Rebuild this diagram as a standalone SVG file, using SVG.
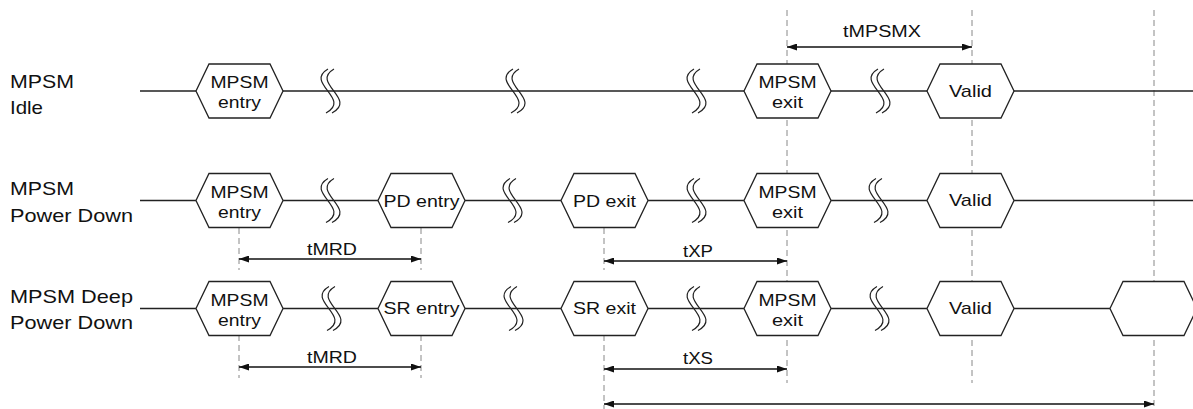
<svg xmlns="http://www.w3.org/2000/svg" width="1193" height="409" viewBox="0 0 1193 409">
<style>
.sig{stroke:#222;stroke-width:1.3;fill:none}
.hex{stroke:#222;stroke-width:1.3;fill:#fff}
.brk{stroke:#222;stroke-width:1.2;fill:none}
.dash{stroke:#888;stroke-width:1;stroke-dasharray:6 4;fill:none}
.arr{stroke:#111;stroke-width:1.3;fill:none;marker-start:url(#ah);marker-end:url(#ah)}
text{font-family:"Liberation Sans",Arial,sans-serif;fill:#111}
.lbl{font-size:19px}
.ht{font-size:17px;text-anchor:middle}
.tm{font-size:16px;text-anchor:middle}
</style>
<defs>
<marker id="ah" viewBox="0 0 10 7" refX="10" refY="3.5" markerWidth="10" markerHeight="7" markerUnits="userSpaceOnUse" orient="auto-start-reverse">
<path d="M0,0 L10,3.5 L0,7 z" fill="#111"/>
</marker>
<path id="brkS" d="M-2,-22 C-26,-8 22,8 -4,22 M4,-22 C-20,-8 28,8 2,22"/>
<polygon id="hx" points="0,0 13,-27 74,-27 87,0 74,27 13,27"/>
</defs>

<g id="guides">
<line class="dash" x1="239" y1="228" x2="239" y2="270"/>
<line class="dash" x1="421" y1="228" x2="421" y2="270"/>
<line class="dash" x1="604" y1="228" x2="604" y2="270"/>
<line class="dash" x1="239" y1="335" x2="239" y2="378"/>
<line class="dash" x1="421" y1="335" x2="421" y2="378"/>
<line class="dash" x1="604" y1="335" x2="604" y2="409"/>
<line class="dash" x1="787" y1="10" x2="787" y2="383"/>
<line class="dash" x1="972" y1="10" x2="972" y2="383"/>
<line class="dash" x1="1154" y1="10" x2="1154" y2="409"/>
</g>

<g id="labels">
<text class="lbl" x="10" y="88" textLength="64" lengthAdjust="spacingAndGlyphs">MPSM</text>
<text class="lbl" x="10" y="113.5" textLength="33" lengthAdjust="spacingAndGlyphs">Idle</text>
<text class="lbl" x="10" y="195" textLength="64" lengthAdjust="spacingAndGlyphs">MPSM</text>
<text class="lbl" x="10" y="221.5" textLength="123" lengthAdjust="spacingAndGlyphs">Power Down</text>
<text class="lbl" x="10" y="303" textLength="123" lengthAdjust="spacingAndGlyphs">MPSM Deep</text>
<text class="lbl" x="10" y="329" textLength="123" lengthAdjust="spacingAndGlyphs">Power Down</text>
</g>

<g id="connectors">
<!-- row 1 -->
<path class="sig" d="M140,91 H196 M283,91 H744 M831,91 H927 M1013,91 H1193"/>
<!-- row 2 -->
<path class="sig" d="M140,200.5 H196 M283,200.5 H378 M465,200.5 H561 M648,200.5 H744 M831,200.5 H927 M1013,200.5 H1193"/>
<!-- row 3 -->
<path class="sig" d="M140,308.5 H196 M283,308.5 H378 M465,308.5 H561 M648,308.5 H744 M831,308.5 H927 M1013,308.5 H1110"/>
<!-- breaks -->
<use href="#brkS" class="brk" x="330" y="91"/>
<use href="#brkS" class="brk" x="515" y="91"/>
<use href="#brkS" class="brk" x="696" y="91"/>
<use href="#brkS" class="brk" x="880" y="91"/>
<use href="#brkS" class="brk" x="330" y="200.5"/>
<use href="#brkS" class="brk" x="512" y="200.5"/>
<use href="#brkS" class="brk" x="696" y="200.5"/>
<use href="#brkS" class="brk" x="878" y="200.5"/>
<use href="#brkS" class="brk" x="331" y="308.5"/>
<use href="#brkS" class="brk" x="513" y="308.5"/>
<use href="#brkS" class="brk" x="696" y="308.5"/>
<use href="#brkS" class="brk" x="879" y="308.5"/>
<!-- timing arrows -->
<line class="arr" x1="787" y1="47" x2="972" y2="47"/>
<line class="arr" x1="239" y1="259" x2="421" y2="259"/>
<line class="arr" x1="604" y1="261" x2="787" y2="261"/>
<line class="arr" x1="239" y1="367" x2="421" y2="367"/>
<line class="arr" x1="604" y1="369" x2="787" y2="369"/>
<line class="arr" x1="604" y1="404" x2="1154" y2="404"/>
<text class="tm" x="882" y="37" textLength="78" lengthAdjust="spacingAndGlyphs">tMPSMX</text>
<text class="tm" x="332" y="255" textLength="50" lengthAdjust="spacingAndGlyphs">tMRD</text>
<text class="tm" x="698" y="257" textLength="30" lengthAdjust="spacingAndGlyphs">tXP</text>
<text class="tm" x="332" y="363" textLength="50" lengthAdjust="spacingAndGlyphs">tMRD</text>
<text class="tm" x="698" y="364" textLength="30" lengthAdjust="spacingAndGlyphs">tXS</text>
</g>

<!-- row 1 nodes -->
<g id="r1-mpsm-entry"><use href="#hx" class="hex" x="196" y="91"/><text class="ht" x="239.5" y="88" textLength="58" lengthAdjust="spacingAndGlyphs">MPSM</text><text class="ht" x="239.5" y="108" textLength="43" lengthAdjust="spacingAndGlyphs">entry</text></g>
<g id="r1-mpsm-exit"><use href="#hx" class="hex" x="744" y="91"/><text class="ht" x="787.5" y="88" textLength="58" lengthAdjust="spacingAndGlyphs">MPSM</text><text class="ht" x="787.5" y="108" textLength="31" lengthAdjust="spacingAndGlyphs">exit</text></g>
<g id="r1-valid"><use href="#hx" class="hex" x="927" y="91"/><text class="ht" x="970.5" y="97" textLength="43" lengthAdjust="spacingAndGlyphs">Valid</text></g>

<!-- row 2 nodes -->
<g id="r2-mpsm-entry"><use href="#hx" class="hex" x="196" y="200.5"/><text class="ht" x="239.5" y="197.5" textLength="58" lengthAdjust="spacingAndGlyphs">MPSM</text><text class="ht" x="239.5" y="217.5" textLength="43" lengthAdjust="spacingAndGlyphs">entry</text></g>
<g id="r2-pd-entry"><use href="#hx" class="hex" x="378" y="200.5"/><text class="ht" x="421.5" y="207" textLength="76" lengthAdjust="spacingAndGlyphs">PD entry</text></g>
<g id="r2-pd-exit"><use href="#hx" class="hex" x="561" y="200.5"/><text class="ht" x="604.5" y="207" textLength="63" lengthAdjust="spacingAndGlyphs">PD exit</text></g>
<g id="r2-mpsm-exit"><use href="#hx" class="hex" x="744" y="200.5"/><text class="ht" x="787.5" y="197.5" textLength="58" lengthAdjust="spacingAndGlyphs">MPSM</text><text class="ht" x="787.5" y="217.5" textLength="31" lengthAdjust="spacingAndGlyphs">exit</text></g>
<g id="r2-valid"><use href="#hx" class="hex" x="927" y="200.5"/><text class="ht" x="970.5" y="206" textLength="43" lengthAdjust="spacingAndGlyphs">Valid</text></g>

<!-- row 3 nodes -->
<g id="r3-mpsm-entry"><use href="#hx" class="hex" x="196" y="308.5"/><text class="ht" x="239.5" y="305.5" textLength="58" lengthAdjust="spacingAndGlyphs">MPSM</text><text class="ht" x="239.5" y="325.5" textLength="43" lengthAdjust="spacingAndGlyphs">entry</text></g>
<g id="r3-sr-entry"><use href="#hx" class="hex" x="378" y="308.5"/><text class="ht" x="421.5" y="314" textLength="76" lengthAdjust="spacingAndGlyphs">SR entry</text></g>
<g id="r3-sr-exit"><use href="#hx" class="hex" x="561" y="308.5"/><text class="ht" x="604.5" y="314" textLength="63" lengthAdjust="spacingAndGlyphs">SR exit</text></g>
<g id="r3-mpsm-exit"><use href="#hx" class="hex" x="744" y="308.5"/><text class="ht" x="787.5" y="305.5" textLength="58" lengthAdjust="spacingAndGlyphs">MPSM</text><text class="ht" x="787.5" y="325.5" textLength="31" lengthAdjust="spacingAndGlyphs">exit</text></g>
<g id="r3-valid"><use href="#hx" class="hex" x="927" y="308.5"/><text class="ht" x="970.5" y="314" textLength="43" lengthAdjust="spacingAndGlyphs">Valid</text></g>
<g id="r3-next"><use href="#hx" class="hex" x="1110" y="308.5"/></g>
</svg>
